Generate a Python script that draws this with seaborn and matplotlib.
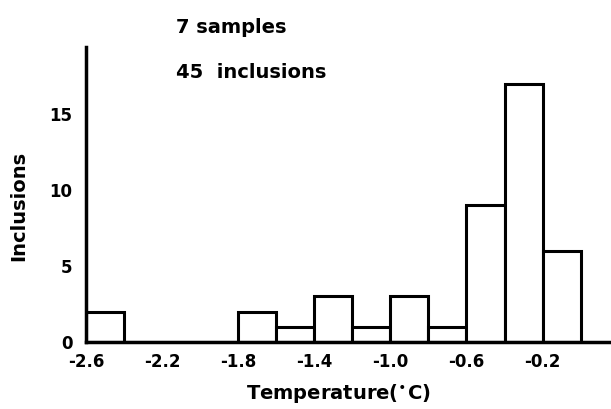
import numpy as np
import pandas as pd
import matplotlib
matplotlib.use('Agg')
import matplotlib.pyplot as plt
import seaborn as sns

# histogram: 0.2 degC bins from -2.6 to 0.0
bin_edges = [-2.6, -2.4, -2.2, -2.0, -1.8, -1.6, -1.4, -1.2, -1.0, -0.8, -0.6, -0.4, -0.2, 0.0]
counts = [2, 0, 0, 0, 2, 1, 3, 1, 3, 1, 9, 17, 6]
xtick_values = [-2.6, -2.2, -1.8, -1.4, -1.0, -0.6, -0.2]
xtick_labels = ['-2.6', '-2.2', '-1.8', '-1.4', '-1.0', '-0.6', '-0.2']
ytick_values = [0, 5, 10, 15]
notes = ['7 samples', '45  inclusions']

centers = [(a + b) / 2 for a, b in zip(bin_edges[:-1], bin_edges[1:])]
df = pd.DataFrame({'temp': centers, 'n': counts})

sns.set_style('white')
plt.rcParams['font.family'] = ['DejaVu Sans']
plt.rcParams['text.color'] = 'black'
plt.rcParams['axes.labelcolor'] = 'black'
plt.rcParams['xtick.color'] = 'black'
plt.rcParams['ytick.color'] = 'black'

fig = plt.figure(figsize=(6.11, 4.09), dpi=100)
ax = fig.add_axes([0.141, 0.164, 0.859, 0.721])

sns.histplot(data=df, x='temp', weights='n', bins=bin_edges, ax=ax,
             color='white', edgecolor='black', linewidth=2.2, alpha=1)

ax.set_xlim(-2.6, 0.16)
ax.set_ylim(0, 19.4)
sns.despine(ax=ax)
for side in ['left', 'bottom']:
    ax.spines[side].set_linewidth(2.5)
    ax.spines[side].set_color('black')

ax.set_xticks(xtick_values)
ax.set_xticklabels(xtick_labels, fontsize=12, fontweight='bold')
ax.set_yticks(ytick_values)
ax.set_yticklabels([str(v) for v in ytick_values], fontsize=12, fontweight='bold')
ax.tick_params(axis='x', length=0, pad=8)
ax.tick_params(axis='y', direction='in', length=6, width=2, pad=10)

ax.set_xlabel('Temperature($^{\\bullet}$C)', fontsize=14, fontweight='bold')
ax.set_ylabel('Inclusions', fontsize=14, fontweight='bold')
ax.xaxis.set_label_coords(0.48, -0.135)
ax.yaxis.set_label_coords(-0.11, 0.46)

ax.text(-2.13, 20.7, notes[0], fontsize=14, fontweight='bold', va='center', ha='left', clip_on=False)
ax.text(-2.13, 17.7, notes[1], fontsize=14, fontweight='bold', va='center', ha='left')

fig.savefig('out.png', dpi=100)
